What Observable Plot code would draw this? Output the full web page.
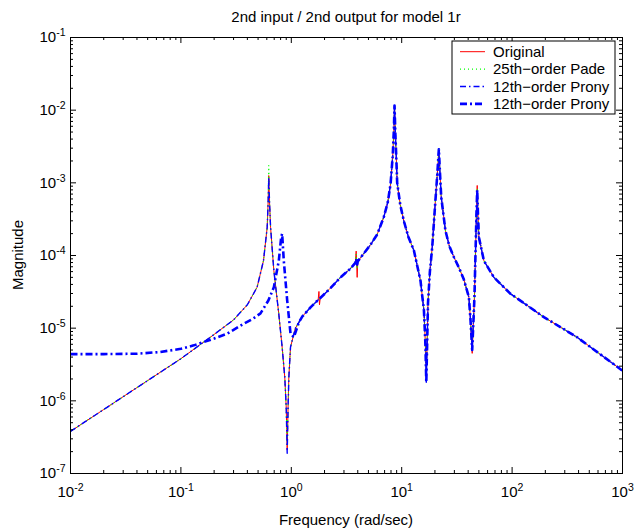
<!DOCTYPE html>
<html><head><meta charset="utf-8">
<script src="https://cdn.jsdelivr.net/npm/d3@7"></script>
<script src="https://cdn.jsdelivr.net/npm/@observablehq/plot@0.6"></script>
<style>body{margin:0;background:#fff} svg{display:block}</style>
</head><body><div id="chart"></div>
<script>
const title = "2nd input / 2nd output for model 1r";
const xLabel = "Frequency (rad/sec)";
const yLabel = "Magnitude";
const seriesNames = ["Original", "25th\u2212order Pade", "12th\u2212order Prony", "12th\u2212order Prony"];

// shared frequency grid (rad/sec) for Original, Pade, Prony (thin)
const freq = [0.01,0.02,0.05,0.1,0.2,0.3,0.4,0.49,0.56,0.605,0.617,0.625,0.635,0.649,0.695,0.77,0.826,0.873,0.9,0.918,0.935,0.95,0.984,
  1.09,1.26,1.5,1.75,1.78,1.80,1.83,2.2,2.79,3.4,3.8,3.87,3.95,4.0,4.5,5.21,6.0,6.89,7.5,7.93,8.3,8.5,8.61,8.75,8.9,9.1,9.7,10.45,11.5,12.9,
  14.8,15.9,16.4,16.7,17.0,17.3,18.0,18.9,20.2,21.0,21.7,22.2,22.8,24.9,27,29.7,33,36.5,40.6,42.0,43.5,44.6,45.6,46.6,47.6,48.3,49.0,50.0,
  55.5,68.4,96.8,194,388,1000];
const magOriginal = [3.8e-7,7.6e-7,1.9e-6,3.8e-6,8.2e-6,1.3e-5,2.1e-5,3.66e-5,8.5e-5,2.45e-4,5.5e-4,1.26e-3,5.5e-4,2.45e-4,6.2e-5,1.58e-5,5.5e-6,2.1e-6,8e-7,2.1e-7,8e-7,2.1e-6,5.5e-6,
  1.0e-5,1.45e-5,1.95e-5,2.45e-5,3.2e-5,2.1e-5,2.6e-5,3.4e-5,5.0e-5,6.5e-5,7.9e-5,1.15e-4,5.0e-5,8.3e-5,1.05e-4,1.4e-4,1.95e-4,3.4e-4,5.5e-4,9.7e-4,2.4e-3,5.5e-3,1.16e-2,5e-3,2.6e-3,1.0e-3,5e-4,3.0e-4,1.8e-4,1.17e-4,
  4.5e-5,1.75e-5,6e-6,2.2e-6,6e-6,2.2e-5,6e-5,1.3e-4,5.7e-4,1.3e-3,2.8e-3,1.4e-3,6.4e-4,2.2e-4,1.35e-4,9.5e-5,6.8e-5,4.7e-5,2.67e-5,1.3e-5,4.5e-6,1.2e-5,2.67e-5,1.05e-4,4e-4,9.2e-4,4e-4,1.79e-4,
  8.5e-5,5.0e-5,2.97e-5,1.42e-5,7.5e-6,2.6e-6];
const magPade = [3.8e-7,7.6e-7,1.9e-6,3.8e-6,8.2e-6,1.3e-5,2.1e-5,3.66e-5,8.5e-5,2.45e-4,5.8e-4,1.73e-3,5.8e-4,2.45e-4,6.2e-5,1.58e-5,5.5e-6,2.1e-6,8e-7,2.5e-7,8e-7,2.1e-6,5.5e-6,
  1.0e-5,1.45e-5,1.95e-5,2.45e-5,2.5e-5,2.5e-5,2.6e-5,3.4e-5,5.0e-5,6.5e-5,7.9e-5,1.05e-4,6.5e-5,8.3e-5,1.05e-4,1.4e-4,1.95e-4,3.4e-4,5.5e-4,9.7e-4,2.4e-3,5.4e-3,1.1e-2,5e-3,2.6e-3,1.0e-3,5e-4,3.0e-4,1.8e-4,1.17e-4,
  4.5e-5,1.75e-5,6e-6,2.5e-6,6e-6,2.2e-5,6e-5,1.3e-4,5.7e-4,1.35e-3,3.0e-3,1.45e-3,6.4e-4,2.2e-4,1.35e-4,9.5e-5,6.8e-5,4.7e-5,2.67e-5,1.3e-5,5e-6,1.2e-5,2.67e-5,1.05e-4,4e-4,8.5e-4,4e-4,1.79e-4,
  8.5e-5,5.0e-5,2.97e-5,1.42e-5,7.5e-6,2.6e-6];
const magPronyA = [3.8e-7,7.6e-7,1.9e-6,3.8e-6,8.2e-6,1.3e-5,2.1e-5,3.66e-5,8.5e-5,2.45e-4,5.4e-4,1.2e-3,5.4e-4,2.45e-4,6.2e-5,1.58e-5,5.5e-6,2.1e-6,8e-7,1.9e-7,8e-7,2.1e-6,5.5e-6,
  1.0e-5,1.45e-5,1.95e-5,2.45e-5,2.5e-5,2.5e-5,2.6e-5,3.4e-5,5.0e-5,6.5e-5,7.9e-5,9e-5,7.5e-5,8.3e-5,1.05e-4,1.4e-4,1.95e-4,3.4e-4,5.5e-4,9.7e-4,2.4e-3,5.5e-3,1.16e-2,5e-3,2.6e-3,1.0e-3,5e-4,3.0e-4,1.8e-4,1.17e-4,
  4.5e-5,1.75e-5,6e-6,1.8e-6,6e-6,2.2e-5,6e-5,1.3e-4,5.7e-4,1.3e-3,2.9e-3,1.4e-3,6.4e-4,2.2e-4,1.35e-4,9.5e-5,6.8e-5,4.7e-5,2.67e-5,1.3e-5,5e-6,1.2e-5,2.67e-5,1.05e-4,4e-4,8e-4,4e-4,1.79e-4,
  8.5e-5,5.0e-5,2.97e-5,1.42e-5,7.5e-6,2.6e-6];
// second Prony model (thick line) has its own grid
const freqPronyB = [0.01,0.02,0.04,0.065,0.1,0.131,0.2,0.262,0.371,0.45,0.526,0.62,0.695,0.771,0.81,0.826,0.855,0.918,0.984,1.055,1.17,
  1.26,1.5,1.75,1.83,2.2,2.79,3.4,3.8,3.87,3.95,4.0,4.5,5.21,6.0,6.89,7.5,7.93,8.3,8.5,8.61,8.75,8.9,9.1,9.7,10.45,11.5,12.9,
  14.8,15.9,16.4,16.7,17.0,17.3,18.0,18.9,20.2,21.0,21.7,22.2,22.8,24.9,27,29.7,33,36.5,40.6,42.0,43.5,44.6,45.6,46.6,47.6,48.3,49.0,50.0,
  55.5,68.4,96.8,194,388,1000];
const magPronyB = [4.4e-6,4.4e-6,4.45e-6,4.7e-6,5.2e-6,5.8e-6,7.2e-6,8.4e-6,1.15e-5,1.35e-5,1.6e-5,2.4e-5,3.66e-5,8.5e-5,1.8e-4,2.0e-4,8.5e-5,2.4e-5,8.4e-6,7.5e-6,1.2e-5,
  1.45e-5,1.95e-5,2.45e-5,2.6e-5,3.4e-5,5.0e-5,6.5e-5,7.9e-5,9e-5,7.5e-5,8.3e-5,1.05e-4,1.4e-4,1.95e-4,3.4e-4,5.5e-4,9.7e-4,2.4e-3,5.5e-3,1.16e-2,5e-3,2.6e-3,1.0e-3,5e-4,3.0e-4,1.8e-4,1.17e-4,
  4.5e-5,1.75e-5,6e-6,1.8e-6,6e-6,2.2e-5,6e-5,1.3e-4,5.7e-4,1.3e-3,2.9e-3,1.4e-3,6.4e-4,2.2e-4,1.35e-4,9.5e-5,6.8e-5,4.7e-5,2.67e-5,1.3e-5,5e-6,1.2e-5,2.67e-5,1.05e-4,4e-4,8e-4,4e-4,1.79e-4,
  8.5e-5,5.0e-5,2.97e-5,1.42e-5,7.5e-6,2.6e-6];

const xTicks = [1e-2, 1e-1, 1e0, 1e1, 1e2, 1e3];
const yTicks = [1e-7, 1e-6, 1e-5, 1e-4, 1e-3, 1e-2, 1e-1];

const W = 634, H = 529, mL = 70, mR = 12, mT = 37, mB = 56;
const innerW = W - mL - mR, innerH = H - mT - mB;
const FONT = "'Liberation Sans', Arial, Helvetica, sans-serif";

const minor = (majors) => majors.slice(0, -1).flatMap(m => [2,3,4,5,6,7,8,9].map(k => k * m));
const xMinor = minor(xTicks), yMinor = minor(yTicks);

const toRows = (xs, ys) => xs.map((x, i) => ({x, y: ys[i]}));
const rowsOrig = toRows(freq, magOriginal);
const rowsPade = toRows(freq, magPade);
const rowsPA = toRows(freq, magPronyA);
const rowsPB = toRows(freqPronyB, magPronyB);

const styles = [
  {stroke: "#ff0000", strokeWidth: 1, dash: null},
  {stroke: "#00ff00", strokeWidth: 1.2, dash: "1,3"},
  {stroke: "#0000ff", strokeWidth: 1.4, dash: "6,3,1.5,3"},
  {stroke: "#0000ff", strokeWidth: 2.6, dash: "7,3,2,3"}
];
const expFmt = d => "10^" + Math.round(Math.log10(d));
const line = (rows, s) => Plot.line(rows, {x: "x", y: "y", stroke: s.stroke, strokeWidth: s.strokeWidth,
  strokeDasharray: s.dash, strokeLinecap: "butt", strokeLinejoin: "round", clip: true});

const chart = Plot.plot({
  width: W, height: H,
  marginLeft: mL, marginRight: mR, marginTop: mT, marginBottom: mB,
  style: {fontFamily: FONT, fontSize: "15px", color: "black", background: "white"},
  x: {type: "log", domain: [1e-2, 1e3]},
  y: {type: "log", domain: [1e-7, 1e-1]},
  marks: [
    Plot.axisX({ticks: xTicks, tickSize: 0, tickPadding: 13, tickFormat: expFmt, label: null, fontSize: 15}),
    Plot.axisY({ticks: yTicks, tickSize: 0, tickPadding: 5, tickFormat: expFmt, label: null, fontSize: 15}),
    line(rowsOrig, styles[0]),
    line(rowsPade, styles[1]),
    line(rowsPA, styles[2]),
    line(rowsPB, styles[3]),
    Plot.tickX(xTicks, {x: d => d, insetTop: innerH - 6, stroke: "black"}),
    Plot.tickX(xTicks, {x: d => d, insetBottom: innerH - 6, stroke: "black"}),
    Plot.tickX(xMinor, {x: d => d, insetTop: innerH - 3, stroke: "black"}),
    Plot.tickX(xMinor, {x: d => d, insetBottom: innerH - 3, stroke: "black"}),
    Plot.tickY(yTicks, {y: d => d, insetRight: innerW - 6, stroke: "black"}),
    Plot.tickY(yTicks, {y: d => d, insetLeft: innerW - 6, stroke: "black"}),
    Plot.tickY(yMinor, {y: d => d, insetRight: innerW - 3, stroke: "black"}),
    Plot.tickY(yMinor, {y: d => d, insetLeft: innerW - 3, stroke: "black"}),
    Plot.frame({stroke: "black", strokeWidth: 1})
  ]
});
document.getElementById("chart").appendChild(chart);

// superscript exponents on tick labels
const ns = "http://www.w3.org/2000/svg";
chart.querySelectorAll('g[aria-label="x-axis tick label"] text, g[aria-label="y-axis tick label"] text').forEach(t => {
  const [b, e] = t.textContent.split("^");
  t.textContent = "";
  const t1 = document.createElementNS(ns, "tspan"); t1.textContent = b; t.appendChild(t1);
  const t2 = document.createElementNS(ns, "tspan"); t2.setAttribute("dy", "-6"); t2.setAttribute("font-size", "10.5");
  t2.textContent = e; t.appendChild(t2);
});

const svg = d3.select(chart);
svg.append("text").attr("x", mL + innerW / 2).attr("y", 22).attr("text-anchor", "middle")
  .attr("font-family", FONT).attr("font-size", 15).text(title);
svg.append("text").attr("x", mL + innerW / 2).attr("y", 525).attr("text-anchor", "middle")
  .attr("font-family", FONT).attr("font-size", 15).text(xLabel);
svg.append("text").attr("transform", `translate(23,${mT + innerH / 2}) rotate(-90)`).attr("text-anchor", "middle")
  .attr("font-family", FONT).attr("font-size", 15).text(yLabel);

// legend
const lx = 452, ly = 41, lw = 163, lh = 73, rowH = 17.4;
const lg = svg.append("g").attr("text-anchor", "start");
lg.append("rect").attr("x", lx).attr("y", ly).attr("width", lw).attr("height", lh)
  .attr("fill", "white").attr("stroke", "black").attr("stroke-width", 1);
seriesNames.forEach((name, i) => {
  const yy = ly + 10.7 + i * rowH, s = styles[i];
  lg.append("line").attr("x1", lx + 8).attr("x2", lx + 33).attr("y1", yy).attr("y2", yy)
    .attr("stroke", s.stroke).attr("stroke-width", s.strokeWidth).attr("stroke-dasharray", s.dash);
  lg.append("text").attr("x", lx + 41).attr("y", yy).attr("dy", "0.35em").attr("text-anchor", "start")
    .attr("font-family", FONT).attr("font-size", 15).text(name);
});
</script>
</body></html>
